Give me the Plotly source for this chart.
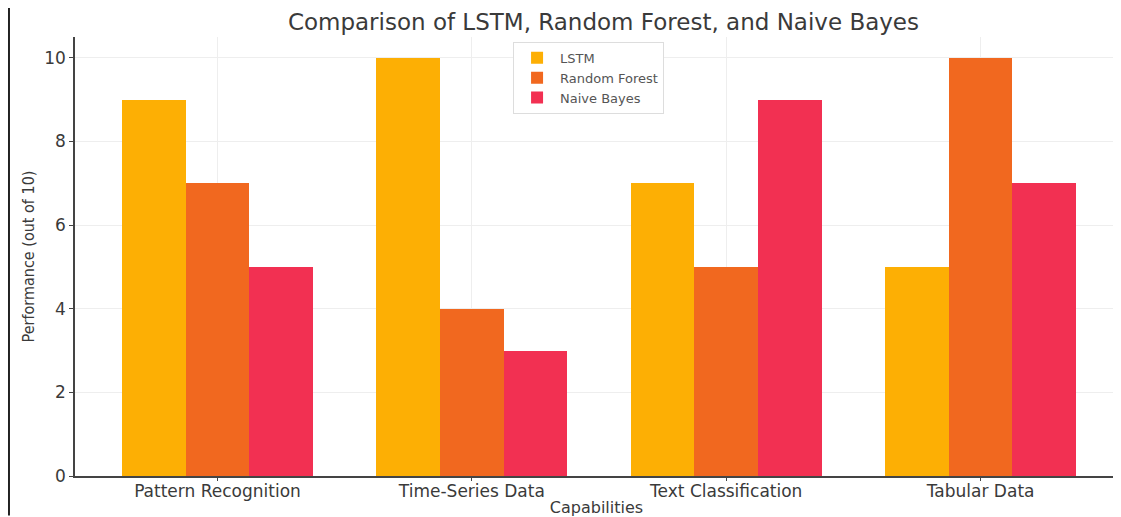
import plotly.graph_objects as go

categories = ["Pattern Recognition", "Time-Series Data", "Text Classification", "Tabular Data"]
lstm = [9, 10, 7, 5]
random_forest = [7, 4, 5, 10]
naive_bayes = [5, 3, 9, 7]
y_ticks = [0, 2, 4, 6, 8, 10]

series = [("LSTM", lstm, "#FDAF04"), ("Random Forest", random_forest, "#F1681F"), ("Naive Bayes", naive_bayes, "#F23052")]

fig = go.Figure()
x_idx = list(range(len(categories)))
offsets = [-0.25, 0.0, 0.25]
for (name, vals, col), off in zip(series, offsets):
    fig.add_trace(go.Bar(
        x=[i + off for i in x_idx], y=vals, name=name, width=0.25,
        marker=dict(color=col, line=dict(width=0)),
    ))

fig.update_layout(
    width=1113, height=509,
    margin=dict(l=67, r=3, t=29, b=41, autoexpand=False),
    paper_bgcolor="white", plot_bgcolor="white",
    font=dict(family="DejaVu Sans", color="#333333"),
    title=dict(text="Comparison of LSTM, Random Forest, and Naive Bayes", x=0.535, xanchor="center",
               y=0.972, yanchor="middle", font=dict(size=23, color="#3a3a3a")),
    showlegend=True,
    legend=dict(x=0.42, y=0.989, xanchor="left", yanchor="top", bgcolor="white",
                bordercolor="#dddddd", borderwidth=1, font=dict(size=13, color="#555555"),
                traceorder="normal", itemwidth=36, tracegroupgap=0),
    bargap=0,
)
fig.update_xaxes(
    range=[-0.56, 3.54], tickmode="array", tickvals=x_idx, ticktext=categories,
    showgrid=True, gridcolor="#eeeeee", gridwidth=1,
    showline=True, linecolor="#444444", linewidth=1.5,
    ticks="outside", ticklen=3, tickcolor="#444444",
    tickfont=dict(size=17, color="#3a3a3a"), ticklabelstandoff=-4,
    title=dict(text="Capabilities", font=dict(size=16, color="#3a3a3a"), standoff=4),
    zeroline=False, automargin=False,
)
fig.update_yaxes(
    range=[0, 10.5], tickmode="array", tickvals=y_ticks,
    showgrid=True, gridcolor="#eeeeee", gridwidth=1,
    showline=True, linecolor="#444444", linewidth=1.5,
    ticks="outside", ticklen=4, tickcolor="#444444",
    tickfont=dict(size=17, color="#3a3a3a"),
    title=dict(text="Performance (out of 10)", font=dict(size=16, color="#3a3a3a", family="DejaVu Sans Condensed, DejaVu Sans"), standoff=6),
    zeroline=False, automargin=False,
)
fig.add_shape(type="line", xref="paper", yref="paper", x0=-0.0633, x1=-0.0633, y0=-0.09, y1=1.08,
              line=dict(color="#222222", width=2))
fig.write_html("out.html")
